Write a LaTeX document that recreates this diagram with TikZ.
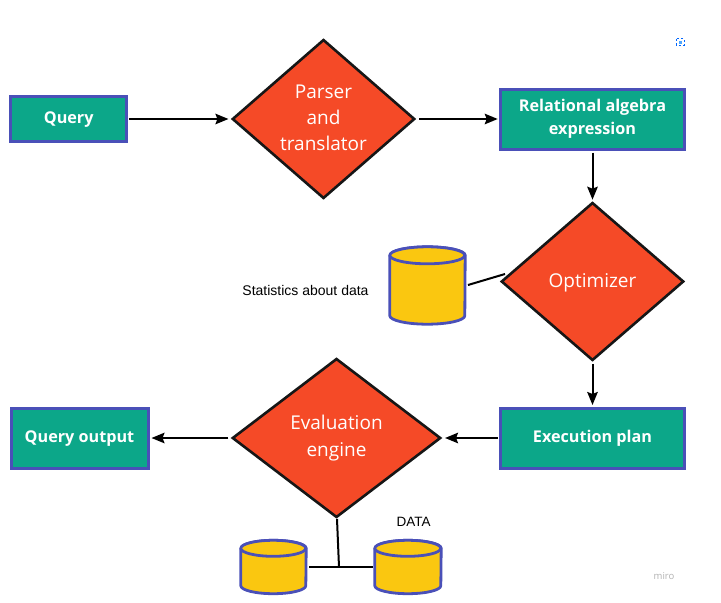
\documentclass[tikz,border=0pt]{standalone}
\usepackage{fontspec}
\setmainfont{Open Sans}
\newfontfamily\arialfont{Liberation Sans}
\usetikzlibrary{shapes.geometric,arrows.meta}
\definecolor{boxgreen}{HTML}{0CA789}
\definecolor{boxblue}{HTML}{4A50B8}
\definecolor{diared}{HTML}{F54A27}
\definecolor{cylyellow}{HTML}{FAC710}
\definecolor{lineblack}{HTML}{161616}
\tikzset{
  x=1pt,y=-1pt,
  procbox/.style={draw=boxblue,line width=3pt,fill=boxgreen,text=white,
    font=\fontsize{16.2}{22}\selectfont\bfseries,align=center,inner sep=0pt,anchor=center},
  decision/.style={diamond,draw=lineblack,line width=2.6pt,fill=diared,text=white,
    font=\fontsize{19}{26}\selectfont,align=center,inner sep=0pt,aspect=1.15},
  store/.style={rectangle,inner sep=0pt},
  storeline/.style={draw=boxblue,line width=2.8pt,fill=cylyellow,line join=round},
  flow/.style={draw=black,line width=2pt,-{Stealth[length=13pt,width=10.5pt,inset=2pt]}},
  plainline/.style={draw=black,line width=2pt},
  note/.style={text=black,font=\arialfont\fontsize{14}{16}\selectfont,inner sep=0pt}
}
\newcommand{\drum}[3]{% name, x radius, y radius
  \path[storeline] ([yshift=-#3]#1.north west) -- ([yshift=#3]#1.south west)
    arc[start angle=180,end angle=360,x radius=#2,y radius=#3]
    -- ([yshift=-#3]#1.north east)
    arc[start angle=0,end angle=180,x radius=#2,y radius=#3] -- cycle;
  \path[storeline] ([yshift=-#3]#1.north west)
    arc[start angle=180,end angle=360,x radius=#2,y radius=#3]
    arc[start angle=0,end angle=180,x radius=#2,y radius=#3] -- cycle;
}
\newcommand{\lowered}[2]{\raisebox{-#1}[0pt][0pt]{#2}}
\begin{document}
\begin{tikzpicture}
\useasboundingbox (0,0) rectangle (721,603);
\fill[white] (0,0) rectangle (721,603);

\node[procbox,minimum width=115.5pt,minimum height=45pt] (query) at (68.7,119) {\lowered{4.5pt}{Query}};
\node[decision,minimum width=182.5pt,minimum height=159pt] (parser) at (323.5,119) {\lowered{31pt}{\shortstack{Parser\\[8pt]and\\[8pt]translator}}};
\node[procbox,minimum width=183.5pt,minimum height=60pt] (rel) at (592.5,119) {\lowered{15pt}{\shortstack{Relational algebra\\[3pt]expression}}};
\node[decision,minimum width=182.5pt,minimum height=158pt] (opt) at (592.5,281.5) {\lowered{5.5pt}{Optimizer}};
\node[procbox,minimum width=183.5pt,minimum height=60pt] (exec) at (592.5,438) {\lowered{4.5pt}{Execution plan}};
\node[decision,minimum width=208.5pt,minimum height=159pt] (eval) at (336.5,438) {\lowered{18pt}{\shortstack{Evaluation\\[9.5pt]engine}}};
\node[procbox,minimum width=137pt,minimum height=60pt] (output) at (79.5,438) {\lowered{4.5pt}{Query output}};

\node[store,minimum width=75pt,minimum height=77pt] (stats) at (427.5,285.5) {};
\node[store,minimum width=65pt,minimum height=53pt] (dataA) at (273.5,567) {};
\node[store,minimum width=66pt,minimum height=53pt] (dataB) at (408,567) {};
\drum{stats}{37.5pt}{8.5pt}
\drum{dataA}{32.5pt}{8pt}
\drum{dataB}{33pt}{8pt}

\node[note,anchor=center] (statslabel) at (305.5,290.5) {Statistics about data};
\node[note,anchor=center,font=\arialfont\fontsize{13.5}{16}\selectfont] (datalabel) at (413.5,522) {DATA};

\coordinate (statsend) at (468,285);
\coordinate (optend) at (505,274);
\coordinate (joint) at (339,567);
\coordinate (evalend) at (337,519);
\coordinate (jointleft) at (309,567);
\coordinate (jointright) at (373,567);

\draw[flow] ([xshift=1pt]query.east) -- ([xshift=-2.5pt]parser.west);
\draw[flow] ([xshift=3pt]parser.east) -- ([xshift=-1.5pt]rel.west);
\draw[flow] ([yshift=-2pt]rel.south) -- ([yshift=1.5pt]opt.north);
\draw[flow] ([yshift=-2pt]opt.south) -- ([yshift=1.5pt]exec.north);
\draw[flow] ([xshift=-1.5pt]exec.west) -- ([xshift=3pt]eval.east);
\draw[flow] ([xshift=-2.5pt]eval.west) -- ([xshift=2pt]output.east);
\draw[plainline] (statsend) -- (optend);
\draw[plainline] (evalend) -- (joint);
\draw[plainline] (jointleft) -- (jointright);

\node[inner sep=0pt,text=black!30,font=\fontsize{9.5}{10}\selectfont] (miro) at (664,576) {miro};
\draw[draw=blue!60!cyan,line width=0.8pt,dash pattern=on 2.5pt off 2pt] (676.5,38.5) rectangle (684,45.5);
\fill[blue!50!cyan!70] (678.5,40.5) rectangle (682,43.5);
\end{tikzpicture}
\end{document}
